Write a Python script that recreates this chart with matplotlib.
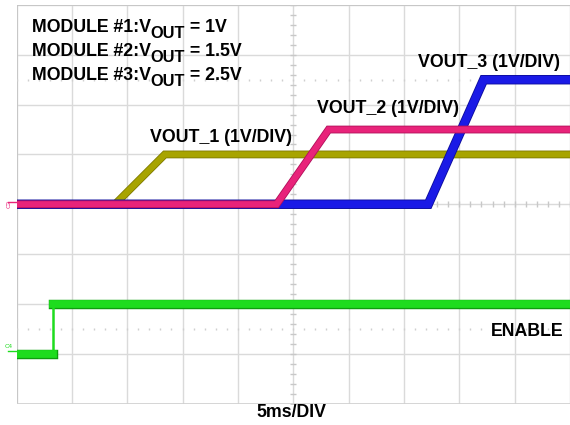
import numpy as np
import matplotlib
matplotlib.use("Agg")
import matplotlib.pyplot as plt

plt.rcParams['font.family'] = ['Liberation Sans', 'DejaVu Sans']

W, H = 570, 425

# ---- data (time in ms, amplitude in divisions, 1V/DIV)
t_vout1 = [0, 8.9, 13.4, 50]
v_vout1 = [0, 0, 1.0, 1.0]
t_vout2 = [0, 23.5, 28.2, 50]
v_vout2 = [0, 0, 1.5, 1.5]
t_vout3 = [0, 37.2, 42.2, 50]
v_vout3 = [0, 0, 2.5, 2.5]
t_enable_step = 3.3
enable_low, enable_high = 0.0, 1.0
enable_offset = -3.0

modules = ["MODULE #1:", "MODULE #2:", "MODULE #3:"]
module_vout = ["1V", "1.5V", "2.5V"]

OLIVE = "#A8A400"
MAGENTA = "#E8237A"
BLUE = "#1A1AE6"
GREEN = "#1EDC1E"
GRID = "#DADADA"

fig = plt.figure(figsize=(W / 100, H / 100), dpi=100)
fig.patch.set_facecolor("white")
ax = fig.add_axes([16.5 / W, 1 - 403.5 / H, 1 - 16.5 / W, (403.5 - 5) / H])
ax.set_xlim(0, 50)
ax.set_ylim(-4, 4)
ax.set_xticks([])
ax.set_yticks([])
for s in ax.spines.values():
    s.set_visible(False)

# graticule
for x in np.arange(0, 51, 5):
    ax.axvline(x, color=GRID, lw=1.0, zorder=1)
for y in np.arange(-4, 5, 1):
    ax.axhline(y, color=GRID, lw=1.0, zorder=1)
ax.axvline(0, color="#C4C4C4", lw=1.2, zorder=1)
ax.axhline(4, color="#C4C4C4", lw=1.2, zorder=1)
ax.axhline(-4, color="#D0D0D0", lw=1.2, zorder=1)
# centre ticks
yt = np.arange(-4, 4.01, 0.2)
ax.plot(np.full_like(yt, 25), yt, ls="none", marker="_", ms=5, mew=1.0, color="#C8C8C8", zorder=1)
xt = np.arange(0, 50.01, 1)
ax.plot(xt, np.zeros_like(xt), ls="none", marker="|", ms=5, mew=1.0, color="#C8C8C8", zorder=1)
# 10% / 90% dotted rows
for y in (2.5, -2.5):
    ax.plot(xt, np.full_like(xt, y), ls="none", marker="|", ms=2, mew=1.0, color="#CFCFCF", zorder=1)

# traces
def trace(t, v, c, edge, lw, z, off=0.0):
    v = np.asarray(v) + off
    ax.plot(t, v, color=edge, lw=lw + 1.2, solid_joinstyle="miter", zorder=z)
    ax.plot(t, v, color=c, lw=lw, solid_joinstyle="miter", zorder=z + 0.1)

trace(t_vout1, v_vout1, OLIVE, "#7E7A00", 4.4, 3)
trace(t_vout3, v_vout3, BLUE, "#0C0C9A", 5.6, 4)
trace(t_vout2, v_vout2, MAGENTA, "#B0105A", 4.4, 5)
# enable: flat levels thick, fast edge thin
trace([0, t_enable_step], [enable_low] * 2, GREEN, "#0E9E0E", 5.6, 3, off=enable_offset)
trace([t_enable_step, 50], [enable_high] * 2, GREEN, "#0E9E0E", 5.6, 3, off=enable_offset)
ax.plot([t_enable_step] * 2, [enable_low + enable_offset, enable_high + enable_offset],
        color=GREEN, lw=1.8, zorder=3)

# channel markers
def px(x, y):
    return x / W, 1 - y / H

fig.text(*px(9, 204), "C3", fontsize=4.5, color=MAGENTA, rotation=90,
         ha="center", va="center")
fig.text(*px(9, 346), "C4", fontsize=4.5, color=GREEN, ha="center", va="center")
ax.plot([-0.8, 0], [0.05, 0.05], color=MAGENTA, lw=1, clip_on=False)
ax.plot([-0.8, 0], [enable_offset + 0.05] * 2, color=GREEN, lw=1, clip_on=False)

# annotations
fs = 12.8
renderer = fig.canvas.get_renderer()
for i, (m, v) in enumerate(zip(modules, module_vout)):
    yb = 32.5 + 24 * i
    t1 = fig.text(*px(31.5, yb), m + "V", fontsize=fs, fontweight="bold",
                  ha="left", va="baseline")
    x1 = t1.get_window_extent(renderer).x1
    t2 = fig.text(x1 / W, 1 - (yb + 5.5) / H, "OUT", fontsize=fs * 0.92,
                  fontweight="bold", ha="left", va="baseline")
    x2 = t2.get_window_extent(renderer).x1
    fig.text(x2 / W, 1 - yb / H, " = " + v, fontsize=fs, fontweight="bold",
             ha="left", va="baseline")

fig.text(*px(150, 142), "VOUT_1 (1V/DIV)", fontsize=fs, fontweight="bold", ha="left", va="baseline")
fig.text(*px(317, 113), "VOUT_2 (1V/DIV)", fontsize=fs, fontweight="bold", ha="left", va="baseline")
fig.text(*px(418, 67), "VOUT_3 (1V/DIV)", fontsize=fs, fontweight="bold", ha="left", va="baseline")
fig.text(*px(491, 336), "ENABLE", fontsize=fs, fontweight="bold", ha="left", va="baseline")
fig.text(*px(291, 417), "5ms/DIV", fontsize=fs, fontweight="bold", ha="center", va="baseline")

fig.savefig("out.png", dpi=100, facecolor="white")
